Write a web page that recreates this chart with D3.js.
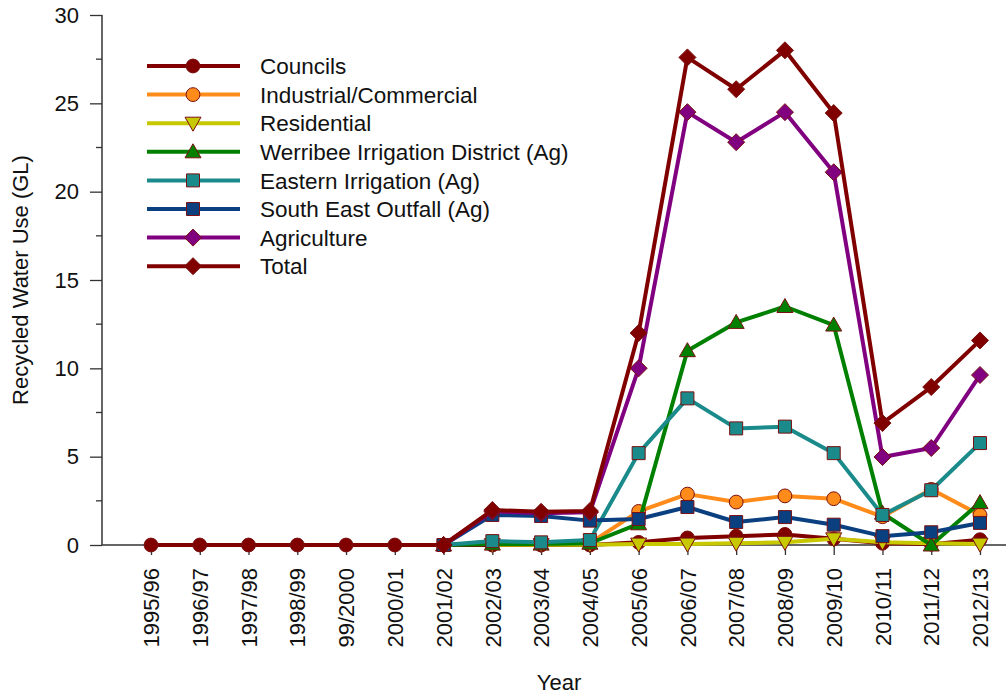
<!DOCTYPE html>
<html><head><meta charset="utf-8">
<script src="https://cdn.jsdelivr.net/npm/d3@7"></script>
<style>
body{margin:0;background:#fff;}
text{font-family:"Liberation Sans",Arial,sans-serif;fill:#111;}
</style></head>
<body><svg id="c" width="1006" height="694"></svg>
<script>
const years = ["1995/96","1996/97","1997/98","1998/99","99/2000","2000/01","2001/02","2002/03","2003/04","2004/05","2005/06","2006/07","2007/08","2008/09","2009/10","2010/11","2011/12","2012/13"];
const yTicks = [0,5,10,15,20,25,30];
const N = null;
const councils    = [0,0,0,0,0,0,0,0,0,0,0.15,0.4,0.5,0.6,0.35,0.1,0.05,0.3];
const residential = [N,N,N,N,N,N,N,0.02,0.02,0.02,0.05,0.05,0.1,0.15,0.35,0.15,0.1,0.05];
const industrial  = [N,N,N,N,N,N,N,N,N,0.1,1.9,2.88,2.43,2.78,2.62,1.6,3.15,1.7];
const werribee    = [N,N,N,N,N,N,0,0.05,0.05,0.1,1.2,11.0,12.6,13.5,12.45,1.8,0,2.4];
const eastern     = [N,N,N,N,N,N,0,0.22,0.15,0.28,5.2,8.3,6.6,6.7,5.2,1.7,3.1,5.77];
const seo         = [N,N,N,N,N,N,0,1.7,1.64,1.38,1.47,2.15,1.3,1.58,1.15,0.5,0.72,1.25];
const agriculture = [N,N,N,N,N,N,0,1.9,1.8,1.85,10.0,24.5,22.8,24.5,21.1,4.98,5.49,9.62];
const total       = [N,N,N,N,N,N,0,1.98,1.88,1.92,12.0,27.6,25.8,28.0,24.45,6.9,8.94,11.58];

const series = [
  {name:"Councils", values:councils, color:"#800000", marker:"circle", fill:"#800000"},
  {name:"Industrial/Commercial", values:industrial, color:"#ff8c1a", marker:"circle", fill:"#ff8c1a"},
  {name:"Residential", values:residential, color:"#c8c800", marker:"tdown", fill:"#c8c800"},
  {name:"Werribee Irrigation District (Ag)", values:werribee, color:"#008000", marker:"tup", fill:"#008000"},
  {name:"Eastern Irrigation (Ag)", values:eastern, color:"#1a8a8a", marker:"square", fill:"#1a8a8a"},
  {name:"South East Outfall (Ag)", values:seo, color:"#0a3f80", marker:"square", fill:"#0a3f80"},
  {name:"Agriculture", values:agriculture, color:"#800080", marker:"diamond", fill:"#800080"},
  {name:"Total", values:total, color:"#800000", marker:"diamond", fill:"#800000"}
];

const svg = d3.select("#c");
const x = d3.scalePoint().domain(years).range([151,980]);
const y = d3.scaleLinear().domain([0,30]).range([545,15]);

function markerPath(type){
  switch(type){
    case "circle": return d3.symbol(d3.symbolCircle, 150)();
    case "square": return "M-6.5,-6.5H6.5V6.5H-6.5Z";
    case "diamond": return "M0,-8.5L8.5,0L0,8.5L-8.5,0Z";
    case "tup": return "M0,-8L8,6L-8,6Z";
    case "tdown": return "M0,8L8,-6L-8,-6Z";
  }
}

// y axis
const yAxis = d3.axisLeft(y).tickValues(yTicks).tickSize(12).tickPadding(11).tickFormat(d3.format("d"));
const gy = svg.append("g").attr("transform","translate(102,0)").call(yAxis);
gy.selectAll("text").style("font-size","22px").attr("fill","#111");
gy.select(".domain").attr("stroke","#333").attr("stroke-width",1.5).attr("d","M0,15V545");
gy.selectAll(".tick line").attr("stroke","#333").attr("stroke-width",1.3);
const minor = d3.range(2.5,30,5);
gy.selectAll(".minor").data(minor).enter().append("line")
  .attr("x1",-6).attr("x2",0).attr("y1",d=>y(d)).attr("y2",d=>y(d))
  .attr("stroke","#333").attr("stroke-width",1.3);

// x axis
const xAxis = d3.axisBottom(x).tickSize(10).tickPadding(13);
const gx = svg.append("g").attr("transform","translate(0,545)").call(xAxis);
gx.select(".domain").attr("d","M102,0H1006").attr("stroke","#333").attr("stroke-width",1.5);
gx.selectAll(".tick line").attr("stroke","#333").attr("stroke-width",1.3);
gx.selectAll("text").style("font-size","22px").attr("fill","#111")
  .attr("transform","rotate(-90)").attr("text-anchor","end")
  .attr("x",-23).attr("y",0).attr("dy","0.35em");

svg.append("text").attr("transform","translate(28,280) rotate(-90)")
  .attr("text-anchor","middle").style("font-size","22px").text("Recycled Water Use (GL)");
svg.append("text").attr("x",559).attr("y",690).attr("text-anchor","middle")
  .style("font-size","22px").text("Year");

// lines
const line = d3.line().defined(d=>d.v!==null).x(d=>x(d.c)).y(d=>y(d.v));
series.forEach(s=>{
  const pts = years.map((c,i)=>({c:c,v:s.values[i]}));
  const g = svg.append("g");
  g.append("path").datum(pts).attr("d",line).attr("fill","none")
    .attr("stroke",s.color).attr("stroke-width",4).attr("stroke-linejoin","round");
  g.selectAll("path.m").data(pts.filter(d=>d.v!==null)).enter().append("path")
    .attr("class","m").attr("d",markerPath(s.marker))
    .attr("transform",d=>`translate(${x(d.c)},${y(d.v)})`)
    .attr("fill",s.fill).attr("stroke","#7a1010").attr("stroke-width",1);
});

// legend
const lg = svg.append("g");
series.forEach((s,i)=>{
  const yy = 66 + i*28.6;
  lg.append("line").attr("x1",147).attr("x2",240).attr("y1",yy).attr("y2",yy)
    .attr("stroke",s.color).attr("stroke-width",4);
  lg.append("path").attr("d",markerPath(s.marker)).attr("transform",`translate(193,${yy})`)
    .attr("fill",s.fill).attr("stroke","#7a1010").attr("stroke-width",1);
  lg.append("text").attr("x",260).attr("y",yy).attr("dy","0.36em")
    .style("font-size","22.5px").text(s.name);
});
</script></body></html>
